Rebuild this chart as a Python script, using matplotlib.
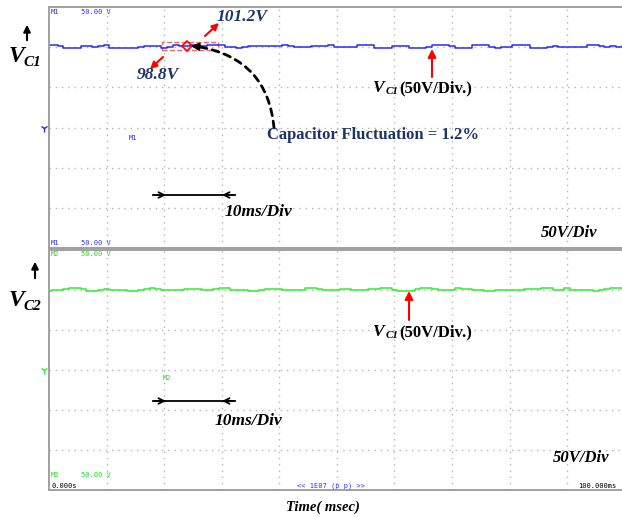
import numpy as np
import matplotlib.pyplot as plt
from matplotlib.patches import Rectangle

# time base (ms) and the two capacitor voltages (V)
time_ms = np.arange(0, 101)
vc1 = [102.5, 103.0, 101.8, 99.5, 99.2, 99.5, 101.0, 101.2, 100.8, 101.5,
       102.4, 99.4, 99.0, 99.2, 99.4, 99.1, 100.6, 101.3, 101.0, 101.2,
       99.0, 99.8, 102.4, 102.0, 101.5, 102.2, 101.6, 101.8, 102.5, 102.3,
       102.4, 100.0, 99.6, 99.2, 99.8, 101.6, 101.4, 101.8, 101.2, 101.5,
       101.7, 103.1, 101.2, 100.2, 100.6, 100.0, 100.9, 101.8, 101.0, 102.3,
       100.0, 99.6, 99.8, 100.1, 102.8, 102.9, 102.5, 99.4, 99.0, 99.5,
       101.6, 101.5, 101.9, 99.3, 99.0, 98.9, 100.6, 102.2, 102.6, 102.3,
       102.0, 99.2, 99.0, 99.4, 103.2, 103.0, 103.3, 100.0, 99.5, 100.2,
       99.8, 102.2, 102.6, 102.1, 99.0, 99.3, 99.1, 100.8, 101.0, 100.6,
       100.0, 99.6, 99.8, 100.2, 103.2, 102.9, 101.0, 100.7, 101.2, 100.8,
       101.0]
vc2 = [99.0, 99.5, 100.5, 101.5, 102.3, 102.0, 101.8, 99.2, 99.0, 99.6,
       101.5, 100.2, 100.0, 99.4, 98.5, 99.2, 100.2, 100.8, 102.0, 101.8,
       100.0, 99.5, 99.8, 100.5, 101.3, 101.5, 101.0, 99.8, 99.6, 101.0,
       102.3, 102.0, 100.4, 100.2, 100.0, 99.2, 99.0, 100.5, 101.2, 101.4,
       101.0, 100.2, 100.0, 99.8, 100.5, 102.2, 102.4, 101.8, 100.2, 100.0,
       100.6, 101.0, 101.3, 99.8, 99.5, 99.6, 101.2, 101.6, 102.2, 102.0,
       99.5, 99.0, 98.9, 99.2, 101.0, 102.0, 102.3, 101.5, 99.8, 99.7,
       100.2, 102.2, 101.8, 100.8, 100.6, 100.0, 99.2, 99.0, 99.6, 100.6,
       100.5, 100.0, 99.9, 101.0, 101.5, 101.6, 102.3, 102.0, 99.8, 99.6,
       102.2, 100.3, 100.0, 99.7, 99.8, 99.0, 99.4, 101.3, 102.3, 102.0,
       101.8]

W, H = 622, 517
fig = plt.figure(figsize=(W / 100, H / 100), dpi=100, facecolor='white')


def P(px, py):
    # screen pixel (y down) -> figure pixels
    return (px, H - py)


def fx(px):
    return px / W


def fy(py):
    return 1 - py / H


grid_col = '#b4b4b4'
frame_col = '#a0a0a0'


def scope_axes(top, bottom):
    ax = fig.add_axes([fx(49), fy(bottom), 1 - fx(49) + 0.001, (bottom - top) / H])
    ax.set_xlim(0, 99.65)
    ax.set_ylim(-150, 150)
    ax.set_xticks(np.arange(10, 100, 10))
    ax.set_yticks(np.arange(-100, 101, 50))
    ax.tick_params(length=0, labelbottom=False, labelleft=False)
    ax.grid(True, color=grid_col, linestyle=(0, (1, 3.5)), linewidth=1.0)
    for s in ['left', 'top', 'bottom']:
        ax.spines[s].set_color(frame_col)
        ax.spines[s].set_linewidth(1.4)
    ax.spines['right'].set_visible(False)
    return ax


ax1 = scope_axes(7, 248)
ax2 = scope_axes(250, 490)

ax1.plot(time_ms, vc1, color='#2a2af2', lw=1.1, drawstyle='steps-mid')
ax2.plot(time_ms, vc2, color='#2ef02e', lw=1.1, drawstyle='steps-mid')

# ground markers
for ax, c in [(ax1, '#2a2af2'), (ax2, '#2ef02e')]:
    ax.plot([-0.8], [0], marker='1', color=c, ms=6, clip_on=False)

mono = dict(family='DejaVu Sans Mono', fontsize=5, va='center')
blue = '#3030ff'
green = '#22dd22'
fig.text(fx(51), fy(12), 'M1', color=blue, **mono)
fig.text(fx(81), fy(12), '50.00 V', color=blue, **mono)
fig.text(fx(129), fy(138), 'M1', color=blue, **mono)
fig.text(fx(51), fy(243), 'M1', color=blue, **mono)
fig.text(fx(81), fy(243), '50.00 V', color=blue, **mono)
fig.text(fx(51), fy(254), 'M2', color=green, **mono)
fig.text(fx(81), fy(254), '50.00 V', color=green, **mono)
fig.text(fx(163), fy(378), 'M2', color=green, **mono)
fig.text(fx(51), fy(475), 'M2', color=green, **mono)
fig.text(fx(81), fy(475), '50.00 V', color=green, **mono)
fig.text(fx(51), fy(486), '0.000s', color='black', **mono)
fig.text(fx(297), fy(486), '<< 1E07 (p p) >>', color=blue, **mono)
fig.text(fx(578), fy(486), '100.000ms', color='black', **mono)

serif = 'Liberation Serif'
navy = '#1c3466'

# V_C1 / V_C2 channel labels with arrows
for ytxt, xarr, ya, yb, sub in [(57, 27, 43, 22, 'C1'), (300, 35, 281, 259, 'C2')]:
    fig.text(fx(9), fy(ytxt), 'V', family=serif, style='italic', weight='bold',
             fontsize=17, va='center', ha='left')
    fig.text(fx(23), fy(ytxt + 6), sub, family=serif, style='italic', weight='bold',
             fontsize=11, va='center', ha='left')
    fig.add_artist(plt.Annotation('', xy=P(xarr, yb), xytext=P(xarr, ya),
                                  xycoords='figure pixels', textcoords='figure pixels',
                                  arrowprops=dict(arrowstyle='-|>', color='black', lw=1.5,
                                                  mutation_scale=10)))


def arrow(x0, y0, x1, y1, color='red', style='-|>', lw=1.5, ms=10, ls='-', cs=None):
    props = dict(arrowstyle=style, color=color, lw=lw, mutation_scale=ms, linestyle=ls,
                 shrinkA=0, shrinkB=0)
    if cs:
        props['connectionstyle'] = cs
    fig.add_artist(plt.Annotation('', xy=P(x1, y1), xytext=P(x0, y0),
                                  xycoords='figure pixels', textcoords='figure pixels',
                                  arrowprops=props))


# ripple markers on VC1
rect = Rectangle((19.65, 96.25), 9.75, 10.0, fill=False, edgecolor='#ff3030',
                 linestyle='--', lw=1.0, alpha=0.75)
ax1.add_patch(rect)
ax1.plot([24.0], [101.3], marker='D', mfc='none', mec='red', ms=5, mew=1.2)
arrow(205, 36, 219, 23)
arrow(163, 57, 150, 69)
fig.text(fx(217), fy(17), '101.2V', family=serif, style='italic', weight='bold',
         fontsize=12.5, color=navy, va='center')
fig.text(fx(137), fy(75), '98.8V', family=serif, style='italic', weight='bold',
         fontsize=12.5, color=navy, va='center')

# dashed curved pointer
arrow(274, 128, 200, 47, color='black', style='-', lw=2.0, ls=(0, (2.5, 2)),
      cs='arc3,rad=0.38')
arrow(202, 47, 191, 46, color='black', style='-|>', lw=1.5, ms=11)
fig.text(fx(267), fy(135), 'Capacitor Fluctuation = 1.2%', family=serif, weight='bold',
         fontsize=12, color=navy, va='center')

# V_C1 (50V/Div.) labels
for yt, xa, ya0, ya1 in [(88, 432, 77, 49), (332, 409, 320, 291)]:
    fig.text(fx(373), fy(yt), 'V', family=serif, style='italic', weight='bold',
             fontsize=12.5, va='center')
    fig.text(fx(386), fy(yt + 3), 'C1', family=serif, style='italic', weight='bold',
             fontsize=8, va='center')
    fig.text(fx(399), fy(yt), '(50V/Div.)', family=serif, weight='bold',
             fontsize=12, va='center')
    arrow(xa, ya0, xa, ya1, ms=12)

# time-division markers
for yl, yt, xt in [(195, 212, 225), (401, 421, 215)]:
    fig.add_artist(plt.Line2D([fx(153), fx(235)], [fy(yl), fy(yl)], color='black', lw=1.3))
    arrow(155, yl, 166, yl, color='black', style='->', lw=1.3, ms=10)
    arrow(233, yl, 222, yl, color='black', style='->', lw=1.3, ms=10)
    fig.text(fx(xt), fy(yt), '10ms/Div', family=serif, style='italic', weight='bold',
             fontsize=12.5, va='center')

fig.text(fx(541), fy(233), '50V/Div', family=serif, style='italic', weight='bold',
         fontsize=12, va='center')
fig.text(fx(553), fy(458), '50V/Div', family=serif, style='italic', weight='bold',
         fontsize=12, va='center')
fig.text(fx(323), fy(507), 'Time( msec)', family=serif, style='italic', weight='bold',
         fontsize=10.5, va='center', ha='center')

fig.savefig('out.png', dpi=100, facecolor='white')
